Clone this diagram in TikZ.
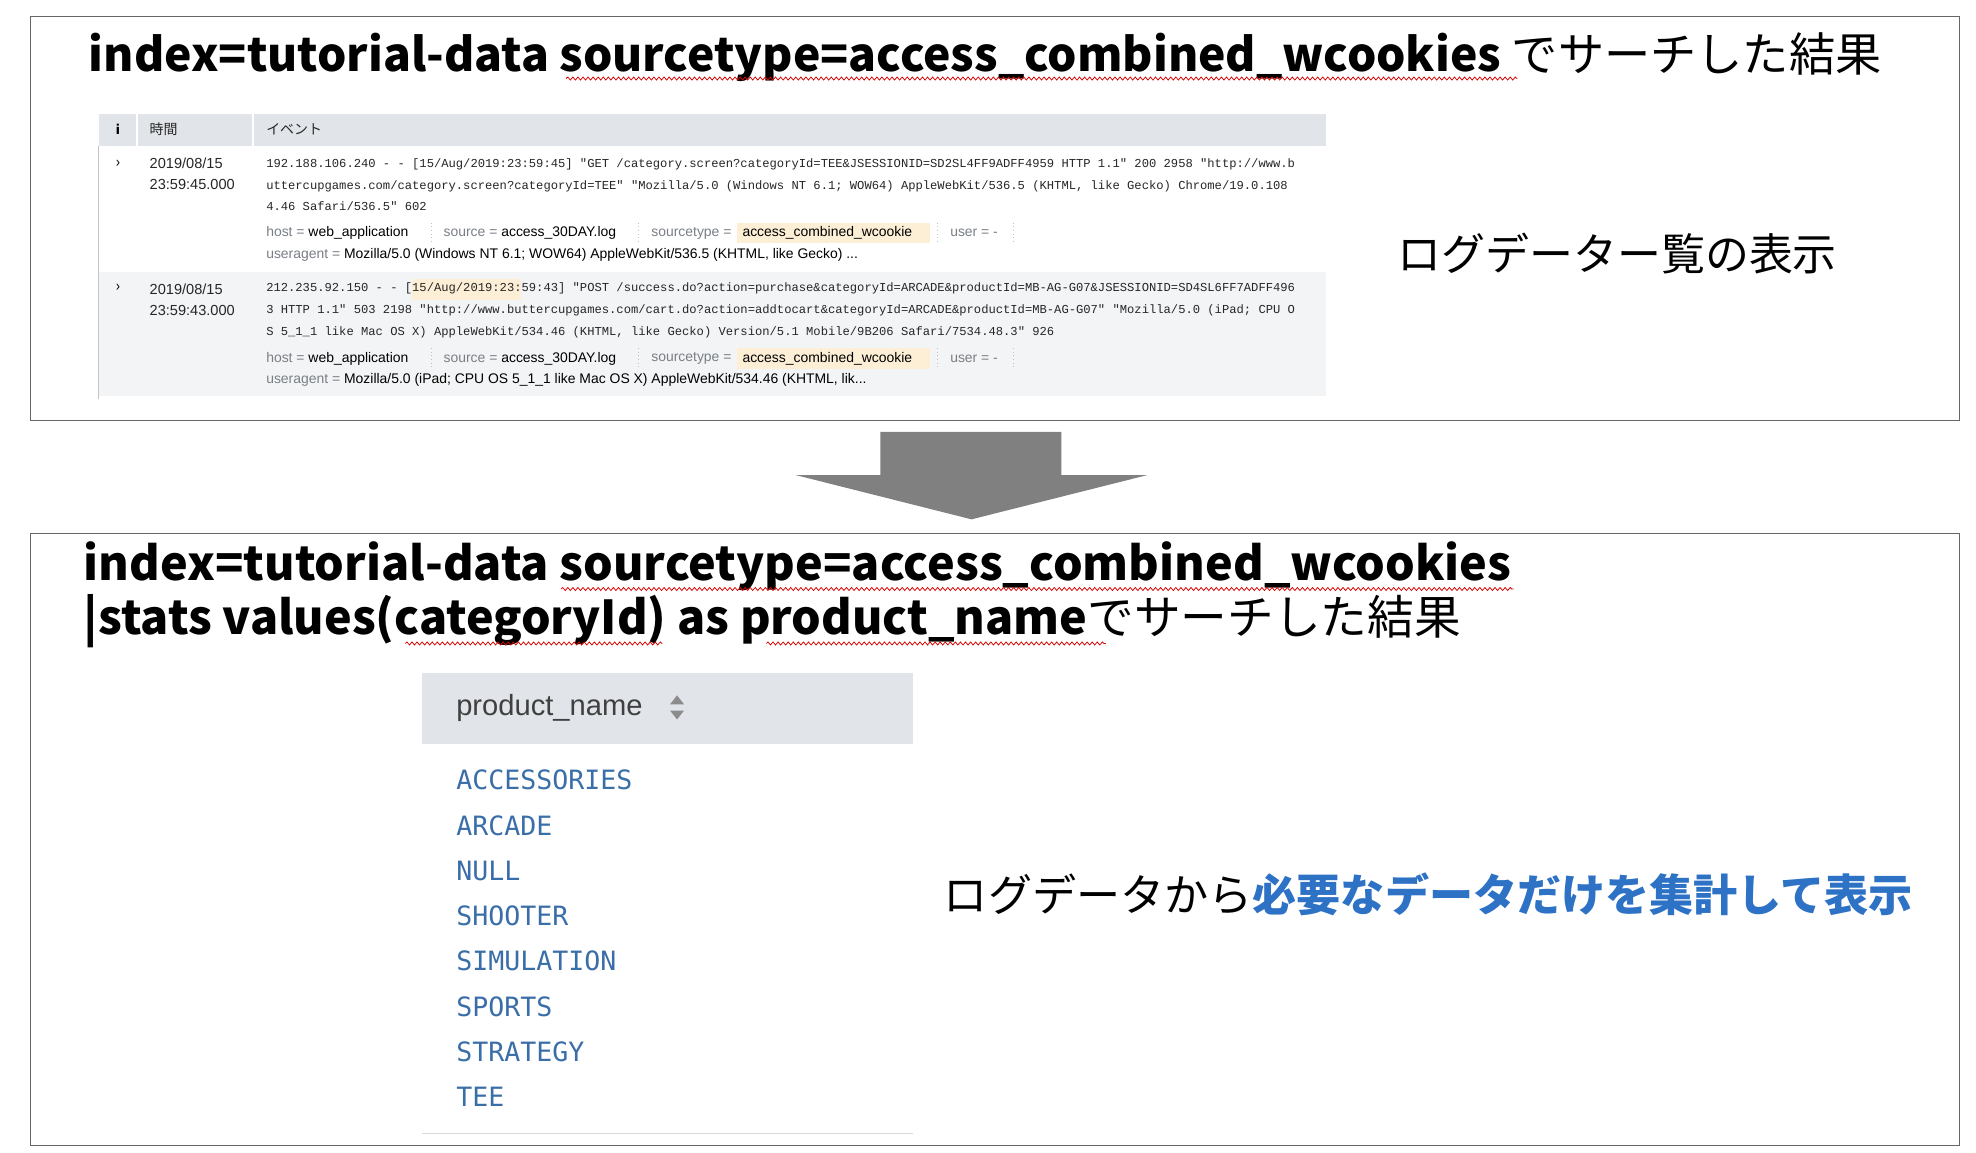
\documentclass[tikz,border=0pt]{standalone}
\usepackage{fontspec}
\setmainfont{Noto Sans CJK JP}
\newfontfamily\logmono{Liberation Mono}
\newfontfamily\fieldsans{Liberation Sans}
\newfontfamily\listmono{DejaVu Sans Mono}
\usetikzlibrary{positioning,decorations.pathmorphing}
\definecolor{hdrgray}{HTML}{E1E4E8}
\definecolor{rowgray}{HTML}{F3F4F5}
\definecolor{hilite}{HTML}{FCEFD6}
\definecolor{lblgray}{HTML}{7A7F86}
\definecolor{listblue}{HTML}{3A6EA8}
\definecolor{sumblue}{HTML}{2E72C6}
\definecolor{arrowgray}{HTML}{808080}
\tikzset{
  frame/.style={draw=black!60, line width=0.8pt},
  title/.style={anchor=west, inner sep=0pt, font=\bfseries},
  logline/.style={anchor=west, inner sep=0pt, font=\logmono\fontsize{9.6}{10}\selectfont, text=black!85},
  field/.style={anchor=west, inner sep=0pt, font=\fieldsans\fontsize{11}{12}\selectfont},
  fieldsep/.style={draw=black!25, dotted, line width=0.8pt},
  stamp/.style={anchor=west, inner sep=0pt, font=\fieldsans\fontsize{11.5}{13}\selectfont, text=black!85},
  colhead/.style={anchor=west, inner sep=0pt, font=\fontsize{11}{12}\selectfont, text=black!85},
  item/.style={anchor=west, inner sep=0pt, font=\listmono\fontsize{21}{24}\selectfont, text=listblue},
  spell/.style={draw=red!85!black, line width=0.6pt, decorate, decoration={snake, amplitude=1.2pt, segment length=4pt}}
}
\newcommand{\fieldrow}[2]{%
  \node[field] at (210,#1) {\textcolor{lblgray}{host =} web\_application};
  \node[field] at (350,#1) {\textcolor{lblgray}{source =} access\_30DAY.log};
  \node[field] at (514,#1) {\textcolor{lblgray}{sourcetype =}};
  \fill[hilite] (582,#1-8) rectangle (734,#1+8);
  \node[field] at (586,#1) {access\_combined\_wcookie};
  \node[field] at (750,#1) {\textcolor{lblgray}{user = -}};
  \foreach \sx in {341,504,740,800} \draw[fieldsep] (\sx,#1-8) -- (\sx,#1+8);
  \node[field] at (210,#1+17) {\textcolor{lblgray}{useragent =} #2};
}
\begin{document}
\begin{tikzpicture}[x=1pt,y=-1pt]
	\useasboundingbox[fill=white] (0,0) rectangle (1560,910);

	% top frame
	\draw[frame] (24,13) rectangle (1547,332);
	\node[title] (qtop) at (70,45) {\resizebox{1415pt}{!}{index=tutorial-data sourcetype=access\_combined\_wcookies \mdseries でサーチした結果}};
	\draw[spell] (447,62) -- (1198,62);

	% event table
	\fill[hdrgray] (78,90) rectangle (1047,115);
	\fill[rowgray] (78,215) rectangle (1047,313);
	\draw[white, line width=1.5pt] (108,90) -- (108,115);
	\draw[white, line width=1.5pt] (200,90) -- (200,115);
	\draw[rowgray!80!black, line width=0.6pt] (78,115) -- (78,315);
	\node[anchor=center, font=\bfseries\fontsize{10}{10}\selectfont] (hi) at (93,102) {i};
	\node[colhead] (htime) at (118,102) {時間};
	\node[colhead] (hevent) at (210,102) {イベント};

	% row 1
	\node[anchor=center, font=\fontsize{12}{12}\selectfont] (ex1) at (93,129) {›};
	\node[stamp] (d1) at (118,129) {2019/08/15};
	\node[stamp] (t1) at (118,146) {23:59:45.000};
	\node[logline] (l11) at (210,130) {192.188.106.240 - - [15/Aug/2019:23:59:45] "GET /category.screen?categoryId=TEE\&JSESSIONID=SD2SL4FF9ADFF4959 HTTP 1.1" 200 2958 "http://www.b};
	\node[logline] (l12) at (210,147) {uttercupgames.com/category.screen?categoryId=TEE" "Mozilla/5.0 (Windows NT 6.1; WOW64) AppleWebKit/536.5 (KHTML, like Gecko) Chrome/19.0.108};
	\node[logline] (l13) at (210,163) {4.46 Safari/536.5" 602};
	\fieldrow{184}{Mozilla/5.0 (Windows NT 6.1; WOW64) AppleWebKit/536.5 (KHTML, like Gecko) ...}

	% row 2
	\node[anchor=center, font=\fontsize{12}{12}\selectfont] (ex2) at (93,227) {›};
	\node[stamp] (d2) at (118,228) {2019/08/15};
	\node[stamp] (t2) at (118,245) {23:59:43.000};
	\fill[hilite] (325,220) rectangle (411,237);
	\node[logline] (l21) at (210,228) {212.235.92.150 - - [15/Aug/2019:23:59:43] "POST /success.do?action=purchase\&categoryId=ARCADE\&productId=MB-AG-G07\&JSESSIONID=SD4SL6FF7ADFF496};
	\node[logline] (l22) at (210,245) {3 HTTP 1.1" 503 2198 "http://www.buttercupgames.com/cart.do?action=addtocart\&categoryId=ARCADE\&productId=MB-AG-G07" "Mozilla/5.0 (iPad; CPU O};
	\node[logline] (l23) at (210,262) {S 5\_1\_1 like Mac OS X) AppleWebKit/534.46 (KHTML, like Gecko) Version/5.1 Mobile/9B206 Safari/7534.48.3" 926};
	\fieldrow{283}{Mozilla/5.0 (iPad; CPU OS 5\_1\_1 like Mac OS X) AppleWebKit/534.46 (KHTML, lik...}

	\node[anchor=west, inner sep=0pt] (logview) at (1103,200) {\resizebox{347pt}{!}{ログデーター覧の表示}};

	% big arrow
	\fill[arrowgray] (695,341) -- (838,341) -- (838,375) -- (906,375) -- (767,410) -- (628,375) -- (695,375) -- cycle;

	% bottom frame
	\draw[frame] (24,421) rectangle (1547,904);
	\node[title] (qbot1) at (66,447) {\resizebox{1127pt}{!}{index=tutorial-data sourcetype=access\_combined\_wcookies}};
	\node[title] (qbot2) at (66,490) {\resizebox{1087pt}{!}{|stats values(categoryId) as product\_name\mdseries でサーチした結果}};
	\draw[spell] (443,465) -- (1195,465);
	\draw[spell] (320,508) -- (523,508);
	\draw[spell] (605,508) -- (873,508);

	% result table
	\fill[hdrgray] (333,531) rectangle (721,587);
	\node[anchor=west, inner sep=0pt, font=\fieldsans\fontsize{23}{24}\selectfont, text=black!75] (pname) at (360,559) {product\_name};
	\fill[black!45] (529,556) -- (540,556) -- (534.5,549) -- cycle;
	\fill[black!45] (529,561) -- (540,561) -- (534.5,568) -- cycle;
	\foreach \name [count=\i from 0] in {ACCESSORIES,ARCADE,NULL,SHOOTER,SIMULATION,SPORTS,STRATEGY,TEE}
		\node[item] (p\i) at (360,616+35.7*\i) {\name};
	\draw[black!15, line width=1pt] (333,895) -- (721,895);

	\node[anchor=west, inner sep=0pt] (summary) at (745,706) {\resizebox{765pt}{!}{ログデータから\textcolor{sumblue}{\bfseries 必要なデータだけを集計して表示}}};

\end{tikzpicture}
\end{document}
